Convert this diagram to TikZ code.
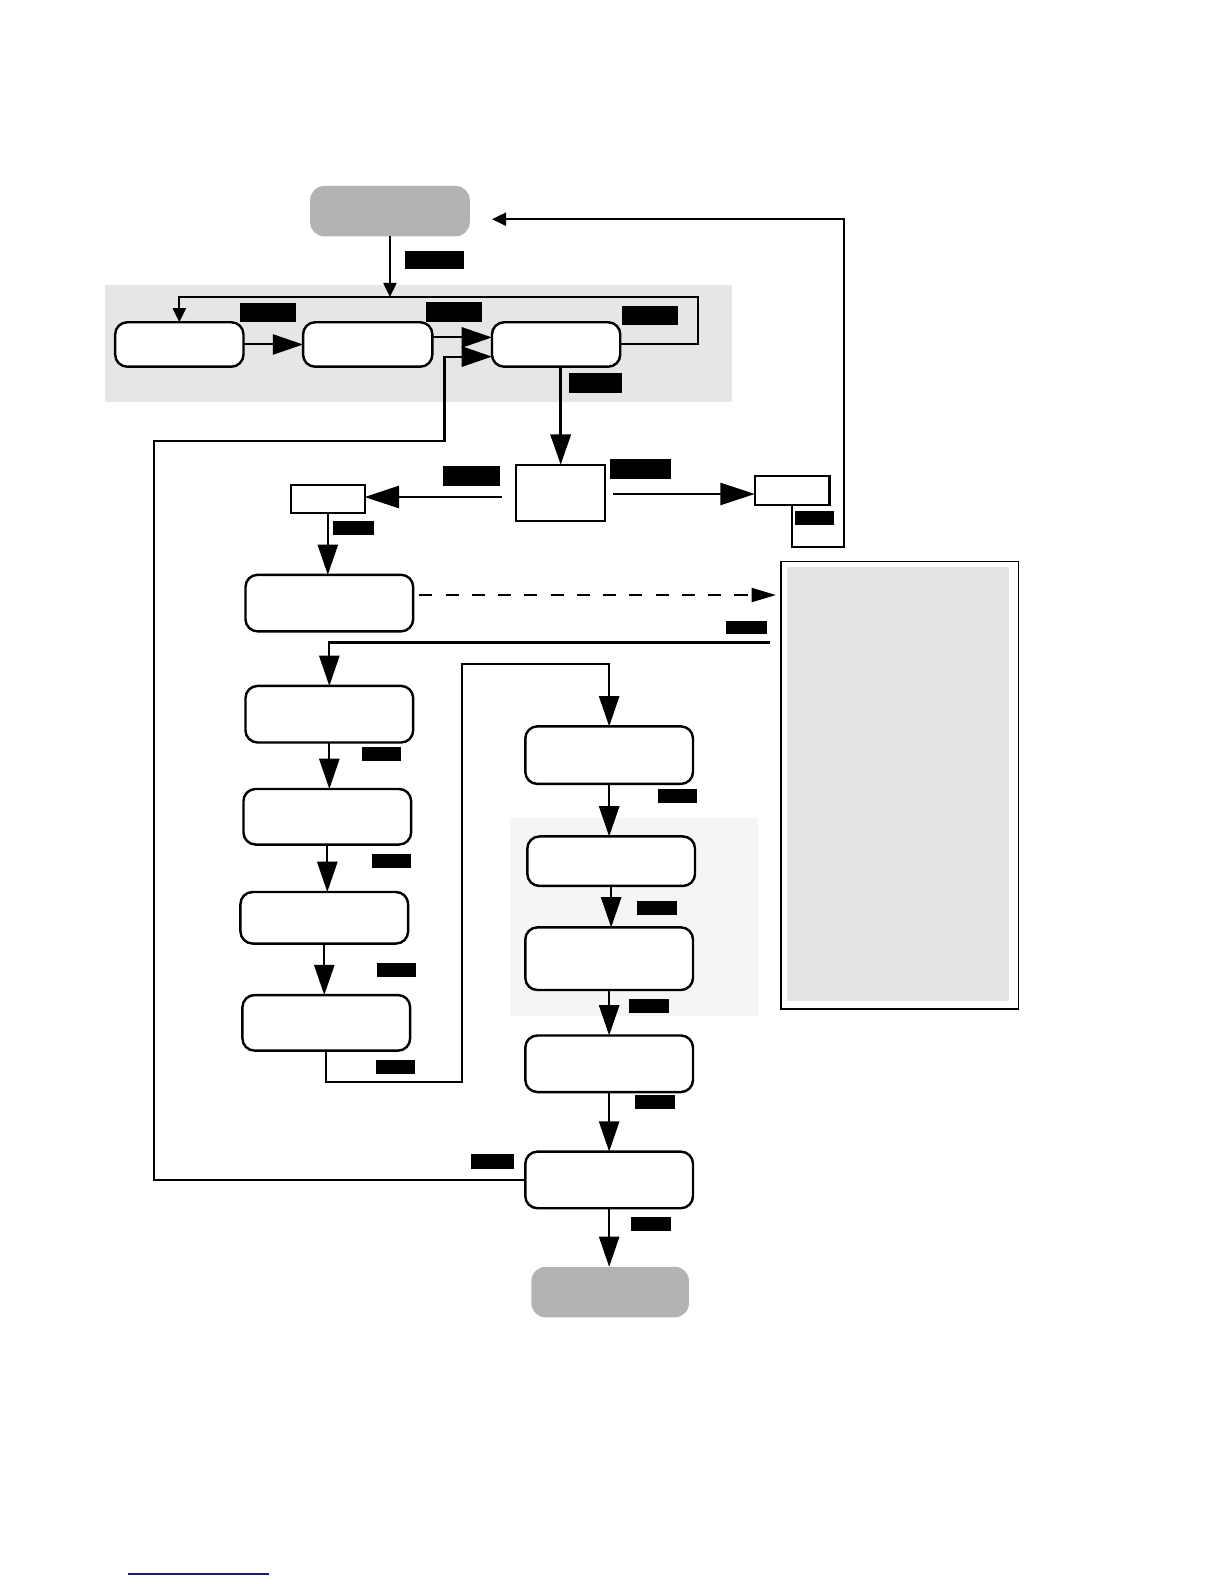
\documentclass[tikz,border=0pt]{standalone}
\usetikzlibrary{arrows.meta}
\definecolor{startgray}{HTML}{B3B3B3}
\definecolor{regiongray}{HTML}{E6E6E6}
\definecolor{panelgray}{HTML}{E3E3E5}
\definecolor{lightgray2}{HTML}{F5F5F5}
\definecolor{linkblue}{HTML}{1A1A7A}
\newcommand\mkbox[6]{\node[#1, minimum width={(#5-#3)*0.5pt}, minimum height={(#6-#4)*0.5pt}] (#2) at ({(#3+#5)/2},{(#4+#6)/2}) {};}
\tikzset{
  every node/.style={inner sep=0pt, outer sep=0pt},
  rbox/.style={draw, line width=1.2pt, rounded corners=6pt, fill=white},
  terminal/.style={fill=startgray, rounded corners=7pt},
  sbox/.style={draw, line width=1.1pt, fill=white},
  lab/.style={fill=black},
  conn/.style={line width=1pt},
  bigtip/.style={conn, -{Triangle[length=15pt,width=10pt]}},
  widetip/.style={conn, -{Triangle[length=17pt,width=11pt]}},
  smalltip/.style={conn, -{Triangle[length=7pt,width=6.5pt]}},
}
\begin{document}
\begin{tikzpicture}[x=0.5pt,y=-0.5pt]
\useasboundingbox (0,0) rectangle (1212,1568);
% background regions
\fill[regiongray] (104,282) rectangle (725,398);
\fill[lightgray2] (505,810) rectangle (750,1006);
\node[draw, line width=0.7pt, fill=white, minimum width={235*0.5pt}, minimum height={443*0.5pt}] (panel) at ({(773+1008)/2},{(556+999)/2}) {};
\fill[panelgray] (779,561) rectangle (999,991);
% terminals
\mkbox{terminal}{start}{307}{184}{465}{234}
\mkbox{terminal}{finish}{526}{1254}{682}{1304}
% top row
\mkbox{rbox}{n1}{114}{319}{241}{363}
\mkbox{rbox}{n2}{300}{319}{428}{363}
\mkbox{rbox}{n3}{487}{319}{614}{363}
% decision and small boxes
\mkbox{sbox}{dec}{511}{460}{599}{516}
\mkbox{sbox}{lbox}{288}{480}{361}{508}
\mkbox{sbox}{rbx}{747}{471}{821}{500}
% left column
\mkbox{rbox}{A}{243}{569}{409}{625}
\mkbox{rbox}{B}{243}{679}{409}{735}
\mkbox{rbox}{C}{241}{781}{407}{836}
\mkbox{rbox}{D}{238}{883}{404}{934}
\mkbox{rbox}{E}{240}{985}{406}{1040}
% right column
\mkbox{rbox}{F}{520}{719}{686}{776}
\mkbox{rbox}{G}{522}{828}{688}{877}
\mkbox{rbox}{H}{520}{918}{686}{980}
\mkbox{rbox}{I}{520}{1025}{686}{1081}
\mkbox{rbox}{J}{520}{1140}{686}{1196}
% labels
\mkbox{lab}{l0}{401}{248}{459}{266}
\mkbox{lab}{l1}{238}{300}{293}{319}
\mkbox{lab}{l2}{422}{299}{477}{319}
\mkbox{lab}{l3}{616}{303}{671}{322}
\mkbox{lab}{l4}{563}{369}{616}{389}
\mkbox{lab}{l5}{439}{461}{495}{481}
\mkbox{lab}{l6}{604}{454}{664}{474}
\mkbox{lab}{l7}{787}{506}{826}{520}
\mkbox{lab}{l8}{330}{516}{370}{530}
\mkbox{lab}{l9}{719}{615}{759}{628}
\mkbox{lab}{l10}{358}{739}{397}{753}
\mkbox{lab}{l11}{368}{845}{407}{859}
\mkbox{lab}{l12}{373}{953}{412}{967}
\mkbox{lab}{l13}{372}{1049}{411}{1063}
\mkbox{lab}{l14}{651}{781}{690}{795}
\mkbox{lab}{l15}{631}{892}{670}{906}
\mkbox{lab}{l16}{623}{989}{662}{1003}
\mkbox{lab}{l17}{629}{1084}{668}{1098}
\mkbox{lab}{l18}{466}{1142}{509}{1157}
\mkbox{lab}{l19}{625}{1205}{664}{1219}
% coordinates for free ends and bends
\coordinate (lpR) at (691,294);
\coordinate (u1) at (428,334);
\coordinate (dl) at (497,492);
\coordinate (dr) at (607,489);
\coordinate (rb) at (835,541);
\coordinate (sp) at (487,217);
\coordinate (dd) at (415,589);
\coordinate (ddend) at (768,589);
\coordinate (pl) at (762,636);
\coordinate (e1) at (457,1071);
\coordinate (e2) at (457,657);
\coordinate (jl) at (152,437);
\coordinate (jr) at (440,353);
% connectors
\draw[smalltip] (start.south) -- (start.south |- lpR);
\draw[smalltip] (n3.east) -| (lpR) -| (n1.north);
\draw[bigtip] (n1.east) -- (n2.west);
\draw[bigtip] (u1) -- (n3.west |- u1);
\draw[bigtip, line width=1.5pt] (n3.south -| dec.north) -- (dec.north);
\draw[widetip] (dl) -- (lbox.east |- dl);
\draw[widetip] (dr) -- (rbx.west |- dr);
\draw[smalltip] (rbx.south) |- (rb) |- (sp);
\draw[bigtip] (lbox.south) -- (lbox.south |- A.north);
\draw[line width=0.7pt, dash pattern=on 6.5pt off 6.5pt, -{Triangle[length=12pt,width=7pt]}] (dd) -- (ddend);
\draw[bigtip] (pl) -| (B.north);
\draw[bigtip] (B.south) -- (B.south |- C.north);
\draw[bigtip] (C.south) -- (C.south |- D.north);
\draw[bigtip] (D.south) -- (D.south |- E.north);
\draw[bigtip] (E.south) |- (e1) -- (e2) -| (F.north);
\draw[bigtip] (F.south) -- (F.south |- G.north);
\draw[bigtip] (G.south) -- (G.south |- H.north);
\draw[bigtip] (H.south) -- (H.south |- I.north);
\draw[bigtip] (I.south) -- (I.south |- J.north);
\draw[bigtip] (J.south) -- (J.south |- finish.north);
\draw[bigtip] (J.west) -| (jl) -| (jr) -- (n3.west |- jr);
% link underline
\draw[linkblue, line width=0.8pt] (127,1558) -- (266,1558);
\end{tikzpicture}
\end{document}
